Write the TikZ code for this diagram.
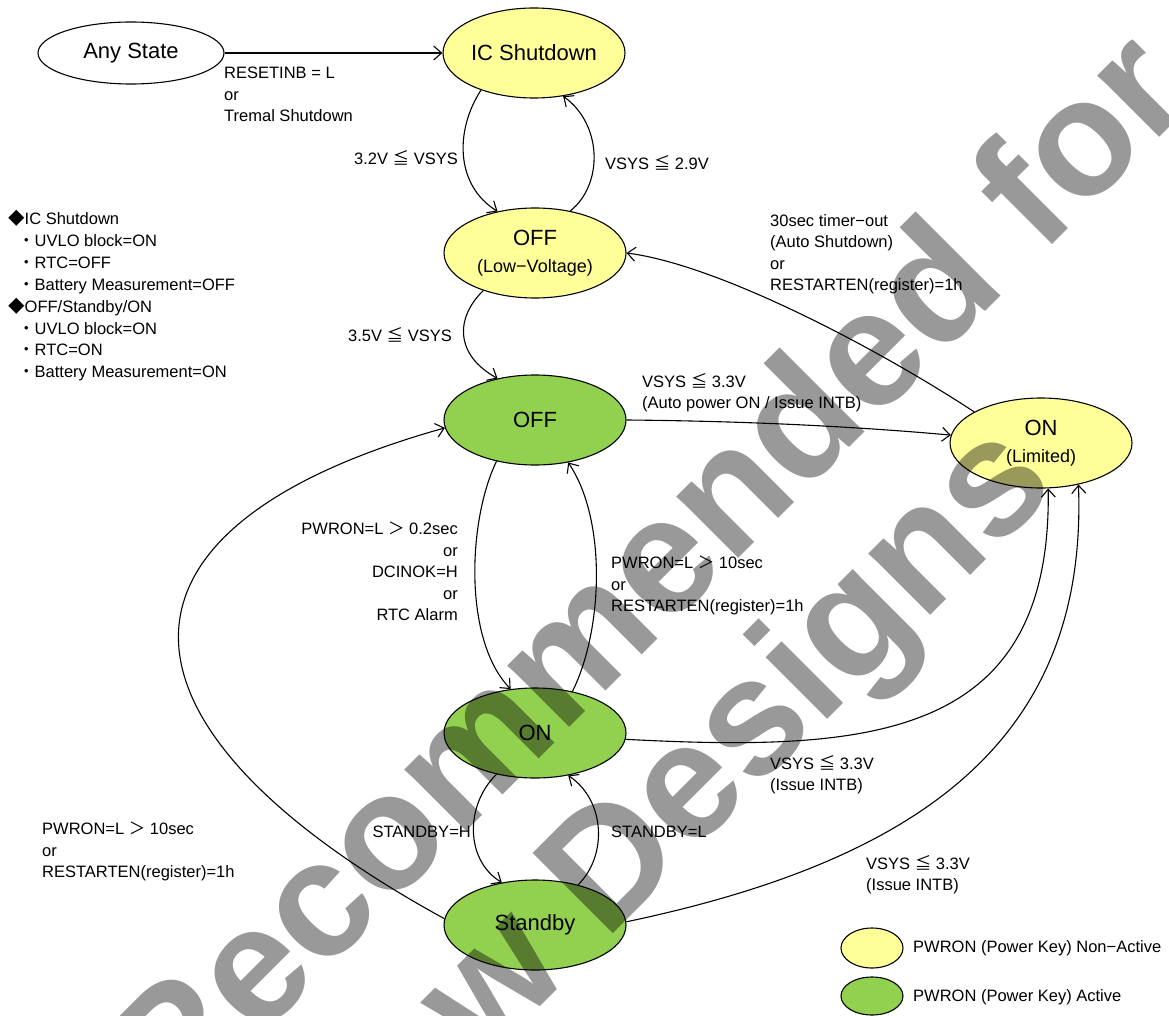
\documentclass[tikz,border=0pt]{standalone}
\usepackage{fontspec}
\setmainfont{Liberation Sans}
\newfontfamily\cjk{Noto Sans CJK JP}
\usetikzlibrary{shapes.geometric,arrows.meta}
\definecolor{ylw}{RGB}{255,255,153}
\definecolor{grn}{RGB}{146,208,80}
\newcommand{\myleqq}{{\cjk ≦}}
\newcommand{\mygt}{{\cjk ＞}}
\newcommand{\mydot}{{\cjk ・}}
\newcommand{\mydia}{{\cjk ◆}}
\begin{document}
\begin{tikzpicture}[x=1pt,y=-1pt,
  state/.style={ellipse,draw,line width=1.1pt,minimum width=182pt,minimum height=90pt,inner sep=0pt,font=\fontsize{22}{27}\selectfont,align=center},
  yst/.style={state,fill=ylw},
  gst/.style={state,fill=grn},
  arr/.style={line width=1.1pt,-{Straight Barb[length=8pt,width=14pt]}},
  lbl/.style={inner sep=0pt,font=\fontsize{16.5}{21.5}\selectfont},
]
\fill[white] (0,0) rectangle (1169,1016);
\useasboundingbox (0,0) rectangle (1169,1016);

% states
\node[state,minimum width=186pt,minimum height=62pt] (any) at (131,53) {Any State};
\node[yst] (ics) at (534,53) {IC Shutdown};
\node[yst] (offlv) at (535,253) {OFF\\{\fontsize{18}{22}\selectfont (Low−Voltage)}};
\node[gst] (off) at (535,420) {OFF};
\node[yst] (onl) at (1041,443) {ON\\{\fontsize{18}{22}\selectfont (Limited)}};
\node[gst] (on) at (535,733) {ON};
\node[gst] (stby) at (535,925) {Standby};

% connectors
\draw[arr] (any.east) -- (ics.west);
\draw[arr] (ics.215) .. controls (455,130) and (455,185) .. (offlv.132);
\draw[arr] (offlv.50) .. controls (603,185) and (603,125) .. (ics.304);
\draw[arr] (offlv.216) .. controls (455,318) and (455,355) .. (off.132);
\draw[arr] (off.east) .. controls (740,421) and (850,426) .. (onl.175);
\draw[arr] (onl.155) .. controls (880,350) and (720,265) .. (offlv.east);
\draw[arr] (off.227) .. controls (468,520) and (463,640) .. (on.119);
\draw[arr] (on.48) .. controls (603,630) and (607,520) .. (off.308);
\draw[arr] (on.356) .. controls (870,752) and (1052,740) .. (onl.279);
\draw[arr] (stby.2) .. controls (920,860) and (1088,740) .. (onl.312);
\draw[arr] (stby.176) .. controls (100,730) and (80,530) .. (off.185);
\draw[arr] (on.227) .. controls (465,805) and (465,860) .. (stby.128);
\draw[arr] (stby.43.5) .. controls (608,855) and (605,800) .. (on.308);

% labels
\node[lbl,anchor=north west,align=left] (l1) at (224,67) {RESETINB = L\\or\\Tremal Shutdown};
\node[lbl,anchor=east] (l2) at (458,158) {3.2V \myleqq{} VSYS};
\node[lbl,anchor=west] (l3) at (605,163) {VSYS \myleqq{} 2.9V};
\node[lbl,anchor=east] (l4) at (452,335) {3.5V \myleqq{} VSYS};
\node[lbl,anchor=north west,align=left] (l5) at (770,214) {30sec timer−out\\(Auto Shutdown)\\or\\RESTARTEN(register)=1h};
\node[lbl,anchor=north west,align=left] (l6) at (642,373) {VSYS \myleqq{} 3.3V\\(Auto power ON / Issue INTB)};
\node[lbl,anchor=north east,align=right] (l7) at (458,522) {PWRON=L \mygt{} 0.2sec\\or\\DCINOK=H\\or\\RTC Alarm};
\node[lbl,anchor=north west,align=left] (l8) at (611,556) {PWRON=L \mygt{} 10sec\\or\\RESTARTEN(register)=1h};
\node[lbl,anchor=north west,align=left] (l9) at (770,755) {VSYS \myleqq{} 3.3V\\(Issue INTB)};
\node[lbl,anchor=east] (l10) at (471,832) {STANDBY=H};
\node[lbl,anchor=west] (l11) at (611,832) {STANDBY=L};
\node[lbl,anchor=north west,align=left] (l12) at (42,822) {PWRON=L \mygt{} 10sec\\or\\RESTARTEN(register)=1h};
\node[lbl,anchor=north west,align=left] (l13) at (866,855) {VSYS \myleqq{} 3.3V\\(Issue INTB)};

% notes
\node[lbl,anchor=north west,align=left,font=\fontsize{16.5}{21.9}\selectfont] (notes) at (8,210) {\mydia{}IC Shutdown\\
\hspace*{10pt}\mydot{}UVLO block=ON\\
\hspace*{10pt}\mydot{}RTC=OFF\\
\hspace*{10pt}\mydot{}Battery Measurement=OFF\\
\mydia{}OFF/Standby/ON\\
\hspace*{10pt}\mydot{}UVLO block=ON\\
\hspace*{10pt}\mydot{}RTC=ON\\
\hspace*{10pt}\mydot{}Battery Measurement=ON};

% key
\node[state,fill=ylw,minimum width=62pt,minimum height=40pt] (k1) at (872,948) {};
\node[state,fill=grn,minimum width=62pt,minimum height=38pt] (k2) at (872,996) {};
\node[lbl,anchor=west] (k1t) at (913,948) {PWRON (Power Key) Non−Active};
\node[lbl,anchor=west] (k2t) at (913,997) {PWRON (Power Key) Active};

% watermark
\begin{scope}
\clip (0,0) rectangle (1169,1016);
\node[rotate=45,text=black,text opacity=0.4,inner sep=0pt,align=center,
  font=\fontsize{165}{176}\selectfont\bfseries] (wm) at (604,758) {Not Recommended for\\New Designs};
\end{scope}
\end{tikzpicture}
\end{document}
